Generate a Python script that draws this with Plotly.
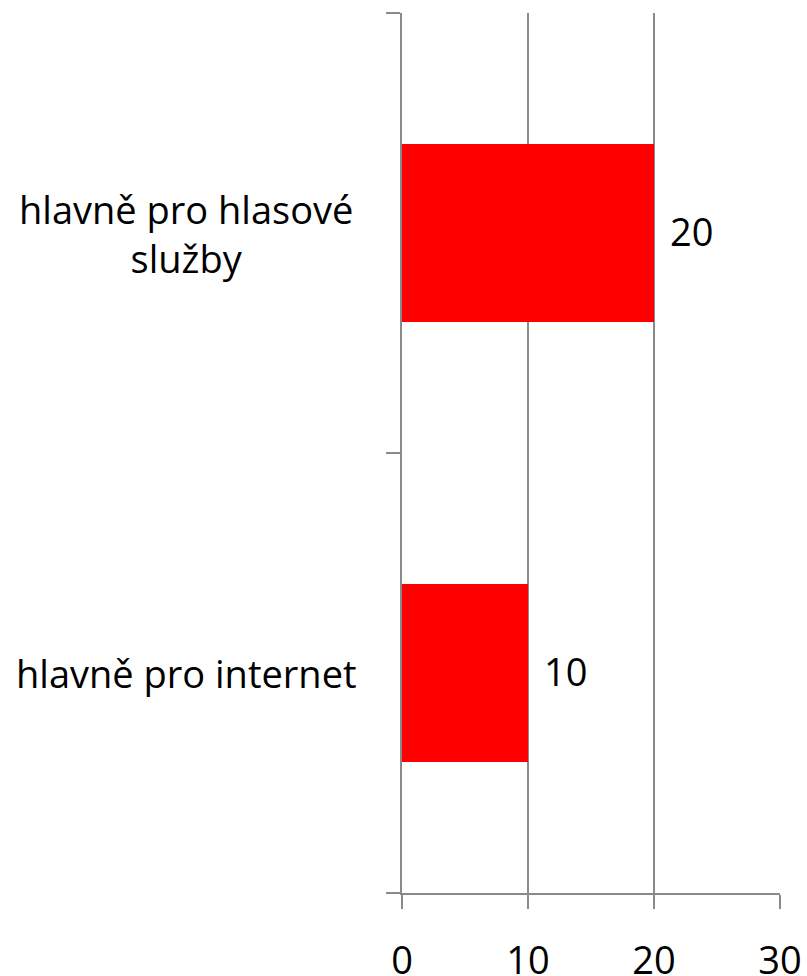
import plotly.graph_objects as go

categories = ["hlavně pro internet", "hlavně pro hlasové<br>služby"]
values = [10, 20]
x_ticks = [0, 10, 20, 30]

FONT = "Open Sans"
FSIZE = 38
AXIS_COLOR = "#8a8a8a"
PLOT_LEFT_PX = 402
PLOT_W_PX = 378
LABEL_CENTER_PX = 186

fig = go.Figure()
fig.add_trace(go.Bar(
    x=values,
    y=categories,
    orientation="h",
    width=0.405,
    marker=dict(color="#ff0000", line=dict(width=0)),
    hoverinfo="skip",
))

annotations = []
for cat, val in zip(categories, values):
    annotations.append(dict(
        x=val, y=cat, xref="x", yref="y",
        text=str(val), showarrow=False,
        xanchor="left", yanchor="middle", xshift=14, yshift=2,
        font=dict(family=FONT, size=FSIZE, color="#000000"),
    ))
    annotations.append(dict(
        x=(LABEL_CENTER_PX - PLOT_LEFT_PX) / PLOT_W_PX, y=cat,
        xref="paper", yref="y",
        text=cat, showarrow=False,
        xanchor="center", yanchor="middle",
        align="center",
        font=dict(family=FONT, size=FSIZE, color="#000000"),
    ))

fig.update_layout(
    width=807, height=976,
    margin=dict(l=PLOT_LEFT_PX, r=807 - PLOT_LEFT_PX - PLOT_W_PX, t=13, b=83),
    paper_bgcolor="white", plot_bgcolor="white",
    showlegend=False,
    annotations=annotations,
    xaxis=dict(
        range=[0, 30],
        tickvals=x_ticks,
        ticktext=[str(t) for t in x_ticks],
        showgrid=True, gridcolor=AXIS_COLOR, gridwidth=2,
        zeroline=False,
        showline=True, linecolor=AXIS_COLOR, linewidth=2,
        ticks="outside", ticklen=14, tickwidth=2, tickcolor=AXIS_COLOR,
        ticklabelstandoff=19,
        tickfont=dict(family=FONT, size=FSIZE, color="#000000"),
        automargin=False,
        fixedrange=True,
    ),
    yaxis=dict(
        type="category",
        categoryorder="array", categoryarray=categories,
        range=[-0.5, 1.5],
        tickson="boundaries",
        ticks="outside", ticklen=14, tickwidth=2, tickcolor=AXIS_COLOR,
        showticklabels=False,
        showgrid=False, zeroline=False,
        showline=True, linecolor=AXIS_COLOR, linewidth=2,
        automargin=False,
        fixedrange=True,
    ),
)

fig.write_html("out.html")
